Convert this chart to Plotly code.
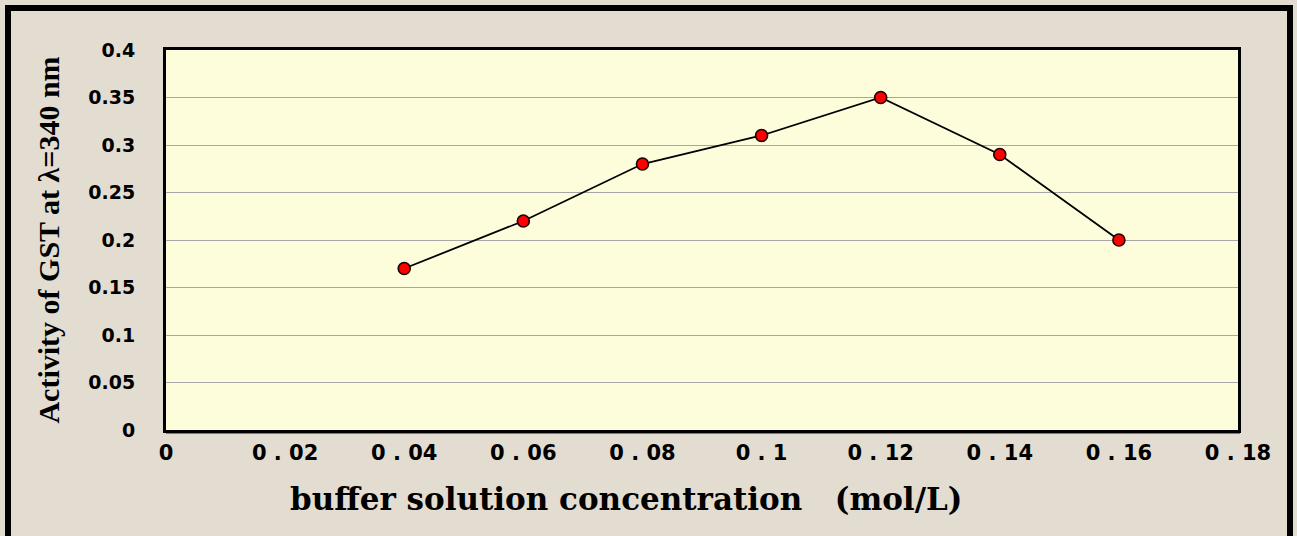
import plotly.graph_objects as go

# GST activity vs. buffer concentration
concentration = [0.04, 0.06, 0.08, 0.10, 0.12, 0.14, 0.16]
activity = [0.17, 0.22, 0.28, 0.31, 0.35, 0.29, 0.20]

x_tick_vals = [0, 0.02, 0.04, 0.06, 0.08, 0.10, 0.12, 0.14, 0.16, 0.18]
x_tick_text = ["0", "0 . 02", "0 . 04", "0 . 06", "0 . 08", "0 . 1",
               "0 . 12", "0 . 14", "0 . 16", "0 . 18"]
y_tick_vals = [0, 0.05, 0.1, 0.15, 0.2, 0.25, 0.3, 0.35, 0.4]
y_tick_text = ["0", "0.05", "0.1", "0.15", "0.2", "0.25", "0.3", "0.35", "0.4"]

x_title = "buffer solution concentration&nbsp;&nbsp;&nbsp;(mol/L)"
y_title = "Activity of GST at λ=340 nm"

W, H = 1297, 536
L, R, T, B = 166, 59, 50, 106
pw, ph = W - L - R, H - T - B


def px_x(p):
    return (p - L) / pw


def px_y(p):
    return (H - B - p) / ph


fig = go.Figure()
fig.add_trace(go.Scatter(
    x=concentration, y=activity, mode="lines+markers",
    line=dict(color="black", width=1.8),
    marker=dict(size=12, color="#ff0000", line=dict(color="#1a0000", width=1.6)),
    showlegend=False, cliponaxis=False,
))

fig.update_layout(
    width=W, height=H,
    margin=dict(l=L, r=R, t=T, b=B),
    paper_bgcolor="#e3dcd0",
    plot_bgcolor="#fdfddc",
    shapes=[
        # outer frame around the chart
        dict(type="rect", xref="paper", yref="paper",
             x0=px_x(8), x1=px_x(1290), y0=px_y(560), y1=px_y(8),
             line=dict(color="black", width=6), layer="above"),
        # soft shadow under the plot frame
        dict(type="line", xref="paper", yref="paper",
             x0=px_x(166), x1=px_x(1240), y0=px_y(433), y1=px_y(433),
             line=dict(color="#7a7a7a", width=2), layer="below"),
    ],
    annotations=[
        dict(text=x_title, xref="paper", yref="paper",
             x=px_x(626), y=px_y(499), xanchor="center", yanchor="middle",
             showarrow=False,
             font=dict(family="DejaVu Serif", size=31, color="black",
                       weight="bold")),
    ],
)

fig.update_xaxes(
    range=[0, 0.18], tickvals=x_tick_vals, ticktext=x_tick_text,
    showgrid=False, zeroline=False,
    showline=True, mirror=True, linecolor="black", linewidth=3,
    ticks="", ticklabelstandoff=2,
    tickfont=dict(family="DejaVu Sans", size=21, color="black", weight="bold"),
)
fig.update_yaxes(
    range=[0, 0.4], tickvals=y_tick_vals, ticktext=y_tick_text,
    showgrid=True, gridcolor="#a6a6a6", gridwidth=1, zeroline=False,
    showline=True, mirror=True, linecolor="black", linewidth=3,
    ticks="", ticklabelstandoff=24,
    tickfont=dict(family="DejaVu Sans", size=19, color="black", weight="bold"),
    title=dict(text=y_title,
               font=dict(family="Liberation Serif", size=30, color="black",
                         weight="bold"),
               standoff=20),
)

fig.write_html("out.html")
